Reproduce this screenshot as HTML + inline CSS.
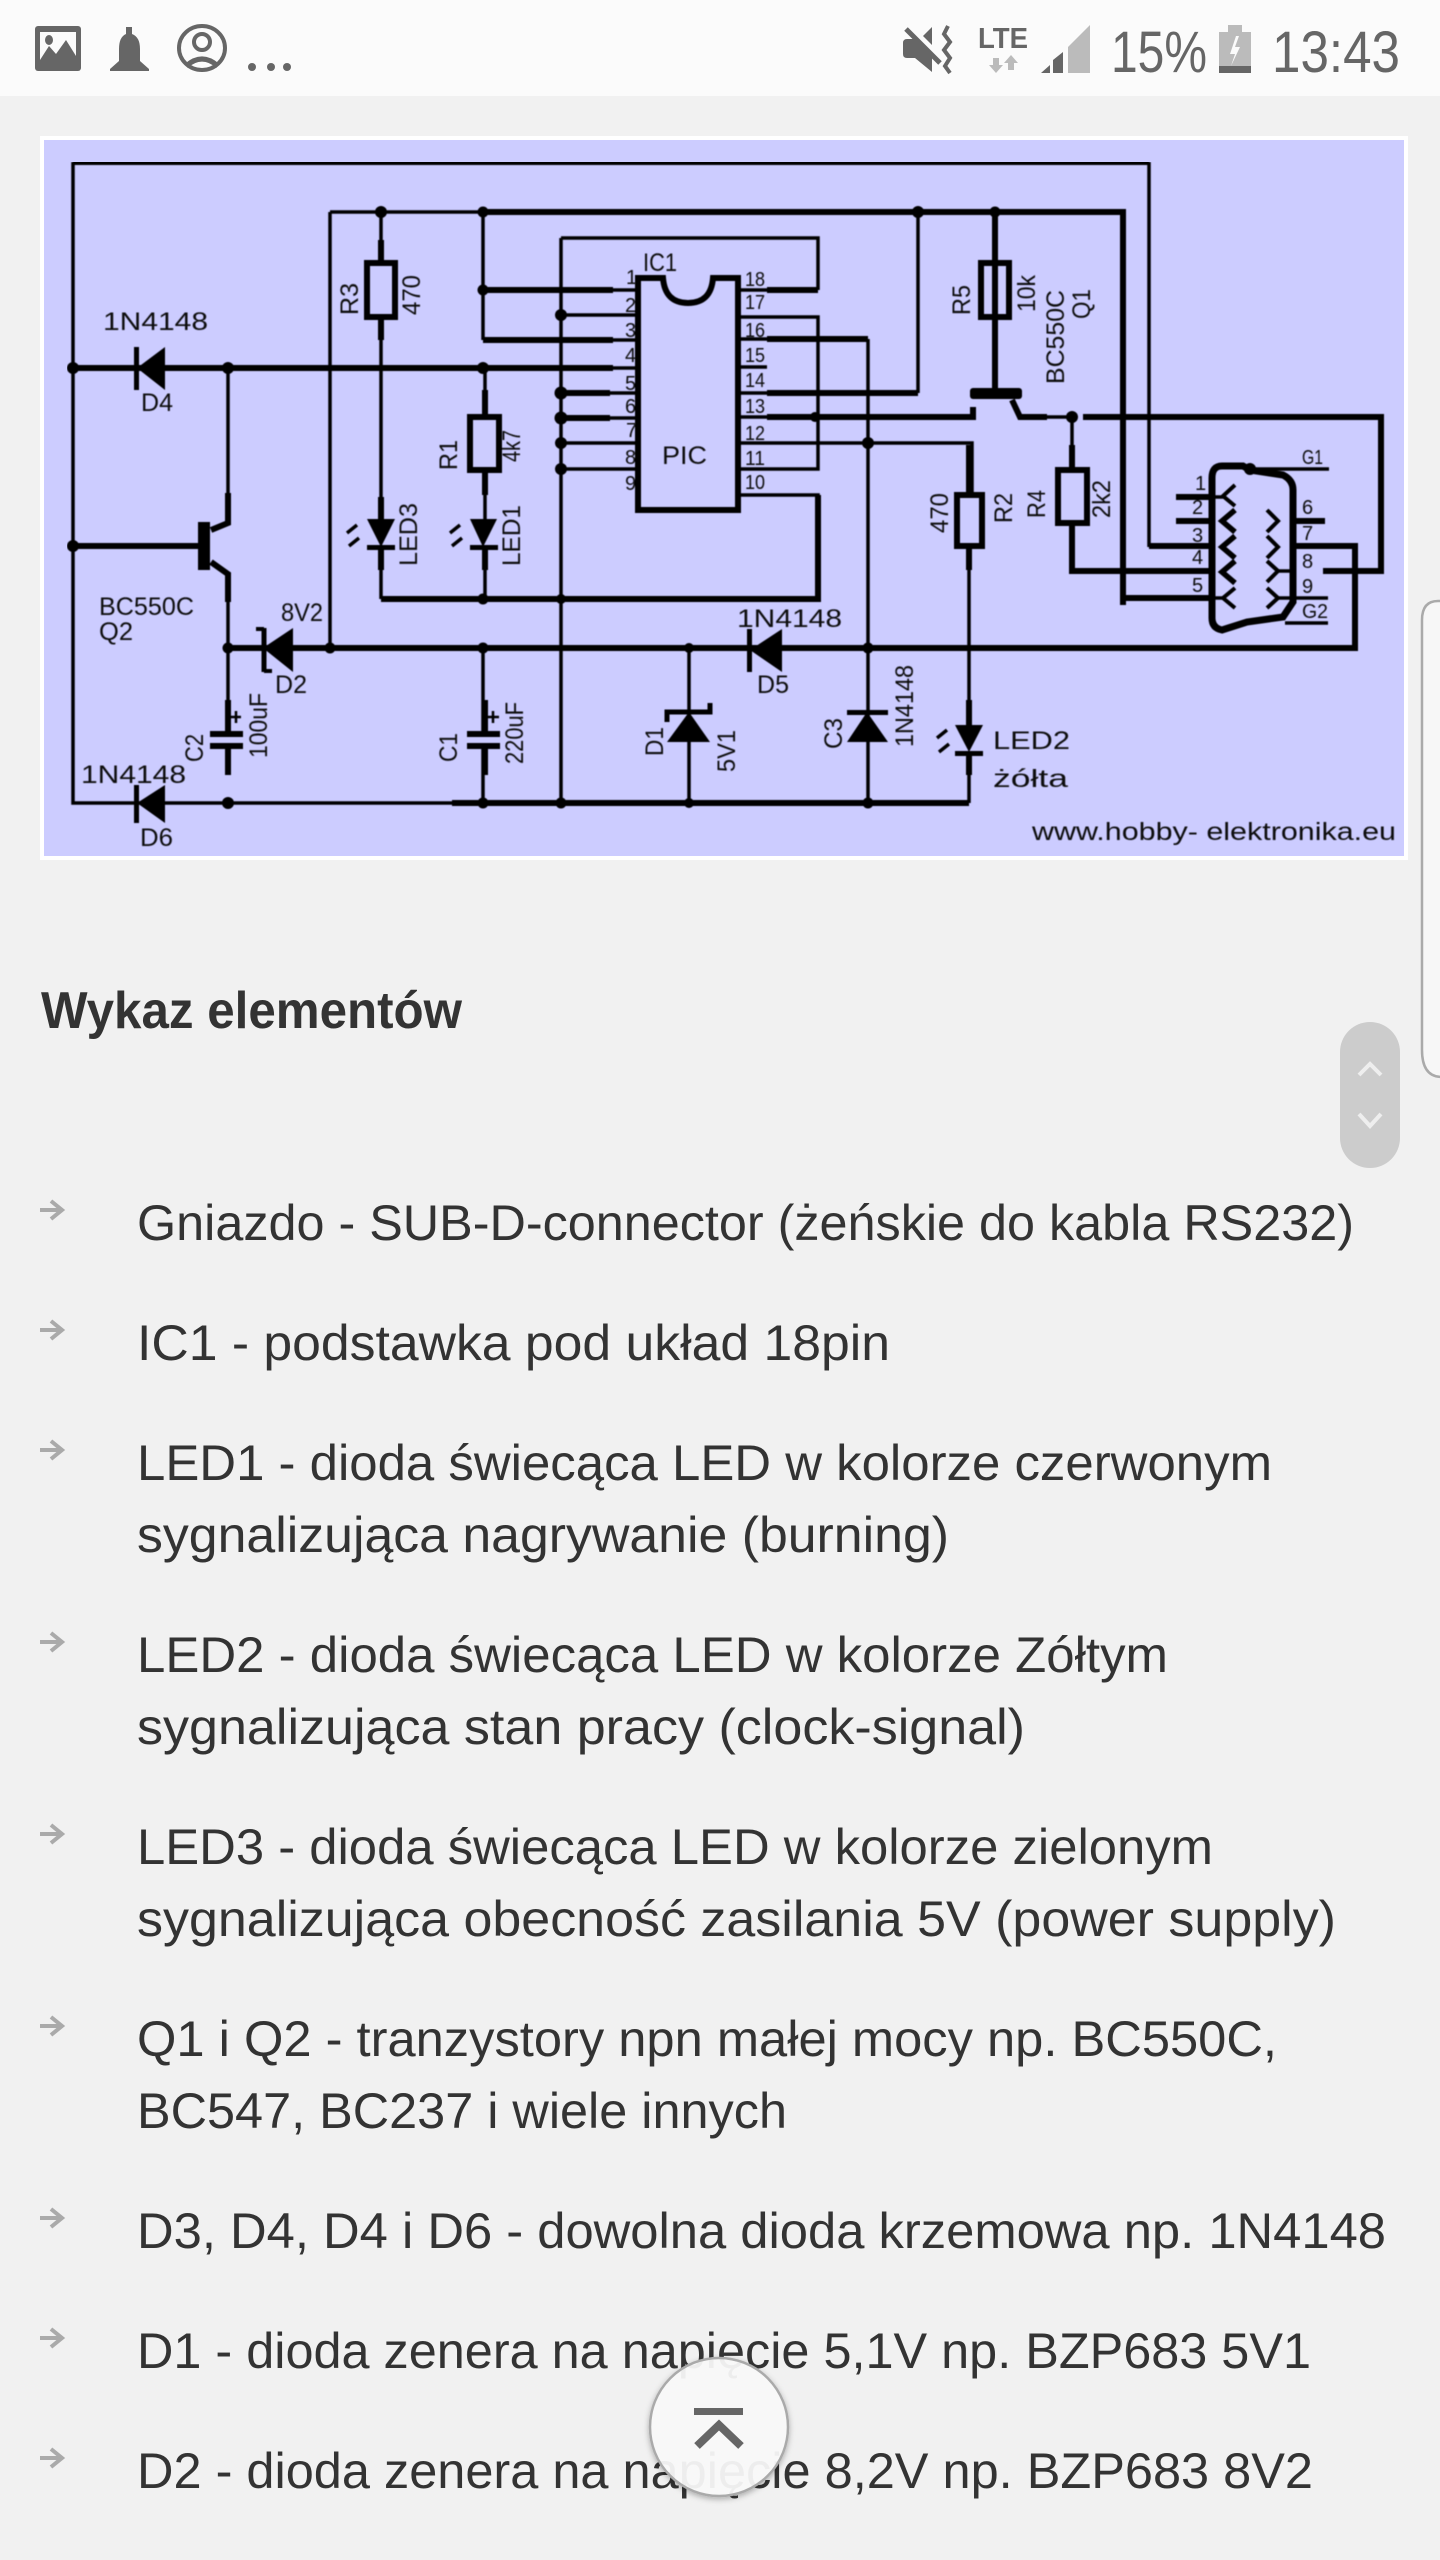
<!DOCTYPE html>
<html lang="pl"><head><meta charset="utf-8"><title>Wykaz elementów</title>
<style>
html,body{margin:0;padding:0;background:#f1f1f1;width:1440px;height:2560px;overflow:hidden}
svg{display:block}
text{font-family:"Liberation Sans",sans-serif}
.b{font-size:50px;fill:#333}
.c text{fill:#111;font-size:25px}
.s text{font-size:20px}
</style></head><body>
<svg xmlns="http://www.w3.org/2000/svg" width="1440" height="2560" viewBox="0 0 1440 2560">
<defs>
<filter id="bl" x="0" y="0" width="100%" height="100%"><feGaussianBlur stdDeviation="0.5"/></filter>
<filter id="sh" x="-20%" y="-20%" width="140%" height="140%"><feDropShadow dx="0" dy="2" stdDeviation="3" flood-color="#000" flood-opacity=".3"/></filter>
<g id="ar"><path d="M40 0H62M51-9L62 0L51 9" fill="none" stroke="#aaa" stroke-width="4"/></g>
</defs>
<rect width="1440" height="2560" fill="#f1f1f1"/>
<!-- status bar -->
<rect width="1440" height="96" fill="#fbfbfb"/>
<g fill="#666">
<rect x="35" y="26" width="46" height="45" rx="3"/>
<rect x="40" y="32" width="36" height="30" fill="#fbfbfb"/>
<path d="M40 60L49 46L56 54L66 40L76 56V66H40Z"/>
<ellipse cx="49" cy="40" rx="4" ry="5"/>
<path d="M126 27h6v7q8 3 8 15v12l9 8v2h-39v-2l9-8v-12q0-12 7-15z"/>
<circle cx="252" cy="67" r="4"/><circle cx="271" cy="67" r="4"/><circle cx="287" cy="67" r="4"/>
<path d="M932 27V45L923 36ZM903 43Q903 39 907 39H913L932 58V72L915 58H907Q903 58 903 54Z"/>
<path d="M906 29L940 63" stroke="#666" stroke-width="5"/>
<path d="M948 26L944 34L950 42L944 50L950 58L945 66L950 73" fill="none" stroke="#666" stroke-width="4"/>
<text x="978" y="48" font-size="29" font-weight="bold" textLength="50" lengthAdjust="spacingAndGlyphs">LTE</text>
<path d="M1041 73L1050 65V73ZM1053 60L1063 52V73H1053Z"/>
</g>
<g fill="none" stroke="#666" stroke-width="4"><ellipse cx="202" cy="48" rx="23" ry="22"/></g>
<circle cx="202" cy="42" r="8" fill="none" stroke="#666" stroke-width="4"/>
<path d="M186 66q16-14 32 0" fill="none" stroke="#666" stroke-width="5"/>
<path d="M1068 47L1090 25V73H1068Z" fill="#bbb"/>
<path d="M993 58h6v7h4l-7 8l-7-8h4zM1011 55l7 8h-4v7h-6v-7h-4z" fill="#bbb"/>
<rect x="1219" y="32" width="32" height="41" fill="#bbb"/><rect x="1228" y="25" width="14" height="8" fill="#bbb"/>
<rect x="1219" y="66" width="32" height="7" fill="#666"/>
<path d="M1236 36l-6 18h5l-4 12l9-19h-5l4-11z" fill="#fbfbfb"/>
<text x="1111" y="72" font-size="58" fill="#666" textLength="96" lengthAdjust="spacingAndGlyphs">15%</text>
<text x="1272" y="72" font-size="58" fill="#666" textLength="128" lengthAdjust="spacingAndGlyphs">13:43</text>

<!-- circuit image -->
<rect x="40" y="136" width="1368" height="724" fill="#fff"/>
<rect x="44" y="140" width="1360" height="716" fill="#ccccff"/>
<g filter="url(#bl)" class="c">
<g fill="none" stroke="#000" stroke-width="3.5">
<path d="M73 162V803H452M1149 162V547"/>
<path d="M330 212H483V340M330 212V648"/>
<path d="M381 212V263M381 317V519M381 548V599"/>
<path d="M561 238H818V290M561 238V803"/>
<path d="M561 315H636M561 443H636M561 469H636"/>
<path d="M740 317H818V469H740"/>
<path d="M740 367H767"/>
<path d="M740 495H818V599"/>
<path d="M868 339V803"/>
<path d="M918 212V393"/>
<path d="M740 443H972V495M969 546V725M969 755V803"/>
<path d="M228 368V493M228 574V648V732"/>
<path d="M485 368V417M485 470V519M485 548V599"/>
<path d="M483 648V732M483 746V803"/>
<path d="M689 648V712M689 742V803"/>
<path d="M1278 598H1328M1285 623H1328M1250 469H1329M1278 571H1293"/>
<path d="M1047 417H1072M1072 417V470"/>
<path d="M1212 497H1223M1212 598H1223"/>
<path d="M610 290H638M610 340H638M610 368H638M607 393H638M607 418H638"/>
<path d="M738 290H770M738 339H770M738 393H770M738 417H770"/>
</g>
<g fill="none" stroke="#000" stroke-width="6">
<path d="M73 162H1149"/>
<path d="M483 212H1123V605M1123 598H1212"/>
<path d="M1149 546H1212"/>
<path d="M483 290H613M483 340H613"/>
<path d="M73 368H613"/>
<path d="M767 290H818"/>
<path d="M767 339H868"/>
<path d="M767 393H918"/>
<path d="M767 417H973V407"/>
<path d="M561 393H610M561 418H610"/>
<path d="M73 546H198"/>
<path d="M228 493V523L211 530M211 562L228 574V602"/>
<path d="M228 648H1355V546H1295"/>
<path d="M381 599H818V495"/>
<path d="M452 803H969"/>
<path d="M381 240V263M381 317V340M381 497V519M381 548V570"/>
<path d="M485 390V417M485 470V495M485 548V570"/>
<path d="M995 212V393M1012 400L1020 417H1047M1083 417H1381V571H1323"/>
<path d="M1072 445V470M1072 523V571H1212"/>
<path d="M969 445V495M969 546V570M969 700V725M969 755V775"/>
<path d="M228 700V732M228 746V775M485 700V732M485 746V775"/>
<path d="M1176 497H1212M1176 521H1212M1293 521H1325M1293 546H1355"/>
<rect x="367" y="263" width="28" height="54"/>
<rect x="470" y="417" width="29" height="53"/>
<rect x="981" y="263" width="28" height="54"/>
<rect x="1058" y="470" width="29" height="53"/>
<rect x="957" y="495" width="25" height="51"/>
<path d="M638 510V278H663Q665 303 688 303Q711 303 713 278H738V510Z"/>
<path d="M1212 478Q1212 466 1222 466H1243L1250 470L1283 475Q1293 480 1293 490V602L1283 617L1247 622L1222 630Q1212 628 1212 618Z" stroke-width="7"/>
</g>
<g fill="#000">
<rect x="970" y="388" width="52" height="11" rx="3"/>
<rect x="198" y="522" width="12" height="48"/>
<!-- diodes -->
<path d="M137 368L165 347V390Z"/><rect x="134" y="347" width="5" height="43"/>
<path d="M137 803L165 785V823Z"/><rect x="134" y="785" width="5" height="38"/>
<path d="M263 648L293 628V672Z"/><path d="M264 628V672" stroke="#000" stroke-width="5"/><path d="M256 629H264M264 671H272" stroke="#000" stroke-width="4"/>
<path d="M750 650L782 629V672Z"/><rect x="747" y="629" width="5" height="43"/>
<path d="M689 712L667 742H710Z"/><path d="M667 722V712H710V703" fill="none" stroke="#000" stroke-width="5"/>
<path d="M867 712L847 742H888Z"/><rect x="847" y="710" width="41" height="5"/>
<!-- leds -->
<path d="M367 519H395L381 547Z"/><rect x="367" y="545" width="28" height="5"/>
<path d="M470 519H497L483 547Z"/><rect x="470" y="545" width="28" height="5"/>
<path d="M955 725H983L969 752Z"/><rect x="955" y="751" width="28" height="5"/>
<!-- led arrows -->
<path d="M347 533l10-8M349 546l10-8" stroke="#000" stroke-width="3.5"/><path d="M450 533l10-8M452 546l10-8" stroke="#000" stroke-width="3.5"/>
<path d="M937 738l10-8M939 752l10-8" stroke="#000" stroke-width="3.5"/>
<!-- caps -->
<rect x="210" y="731" width="33" height="6"/><rect x="210" y="743" width="33" height="6"/>
<rect x="467" y="731" width="33" height="6"/><rect x="467" y="743" width="33" height="6"/>
<path d="M230 717h11M236 711v12M488 717h11M493 711v12" stroke="#000" stroke-width="2.5"/>
<!-- nodes -->
<circle cx="73" cy="368" r="6"/><circle cx="73" cy="546" r="6"/><circle cx="228" cy="368" r="6"/><circle cx="228" cy="648" r="5.5"/><circle cx="228" cy="803" r="6"/>
<circle cx="330" cy="648" r="5.5"/><circle cx="381" cy="212" r="6"/><circle cx="483" cy="212" r="5.5"/><circle cx="483" cy="290" r="5.5"/><circle cx="483" cy="368" r="6"/><circle cx="483" cy="599" r="5.5"/><circle cx="483" cy="648" r="5.5"/><circle cx="483" cy="803" r="5.5"/>
<circle cx="561" cy="315" r="6"/><circle cx="561" cy="393" r="6.5"/><circle cx="561" cy="418" r="6.5"/><circle cx="561" cy="443" r="6"/><circle cx="561" cy="469" r="6"/><circle cx="561" cy="599" r="5"/><circle cx="561" cy="803" r="5.5"/>
<circle cx="689" cy="648" r="5"/><circle cx="689" cy="803" r="5"/><circle cx="815" cy="417" r="5"/>
<circle cx="868" cy="443" r="6"/><circle cx="868" cy="648" r="5.5"/><circle cx="868" cy="803" r="5.5"/><circle cx="918" cy="212" r="6"/><circle cx="995" cy="212" r="5.5"/><circle cx="1072" cy="417" r="6"/><circle cx="1250" cy="469" r="6"/>
</g>
<g fill="none" stroke="#000" stroke-width="4">
<path d="M1235 485L1223 496L1235 506"/>
<path d="M1235 510L1222 521L1235 532" stroke-width="5.5"/>
<path d="M1235 536L1222 547L1235 558" stroke-width="5.5"/>
<path d="M1235 561L1222 572L1235 583" stroke-width="5.5"/>
<path d="M1235 588L1223 598L1235 608"/>
<path d="M1267 510L1278 521L1267 532"/>
<path d="M1267 536L1278 547L1267 558"/>
<path d="M1267 561L1278 571L1267 582"/>
<path d="M1267 588L1278 598L1267 608"/>
</g>
<!-- labels -->
<text x="103" y="330" font-size="27" textLength="105" lengthAdjust="spacingAndGlyphs">1N4148</text>
<text x="141" y="411" textLength="32" lengthAdjust="spacingAndGlyphs">D4</text>
<text x="81" y="783" font-size="27" textLength="105" lengthAdjust="spacingAndGlyphs">1N4148</text>
<text x="140" y="846" textLength="33" lengthAdjust="spacingAndGlyphs">D6</text>
<text x="99" y="615" textLength="95" lengthAdjust="spacingAndGlyphs">BC550C</text>
<text x="99" y="640" textLength="34" lengthAdjust="spacingAndGlyphs">Q2</text>
<text x="281" y="621" textLength="42" lengthAdjust="spacingAndGlyphs">8V2</text>
<text x="275" y="693" textLength="32" lengthAdjust="spacingAndGlyphs">D2</text>
<text x="737" y="627" font-size="27" textLength="105" lengthAdjust="spacingAndGlyphs">1N4148</text>
<text x="757" y="693" textLength="32" lengthAdjust="spacingAndGlyphs">D5</text>
<text x="643" y="271" textLength="34" lengthAdjust="spacingAndGlyphs">IC1</text>
<text x="662" y="464" font-size="28" textLength="45" lengthAdjust="spacingAndGlyphs">PIC</text>
<text x="993" y="749" font-size="32" textLength="77" lengthAdjust="spacingAndGlyphs">LED2</text>
<text x="993" y="787" font-size="30" textLength="75" lengthAdjust="spacingAndGlyphs">żółta</text>
<text x="1032" y="840" font-size="27" textLength="364" lengthAdjust="spacingAndGlyphs">www.hobby- elektronika.eu</text>
<text transform="translate(358 315) rotate(-90)" textLength="32" lengthAdjust="spacingAndGlyphs">R3</text>
<text transform="translate(420 315) rotate(-90)" textLength="40" lengthAdjust="spacingAndGlyphs">470</text>
<text transform="translate(457 470) rotate(-90)" textLength="30" lengthAdjust="spacingAndGlyphs">R1</text>
<text transform="translate(520 462) rotate(-90)" textLength="32" lengthAdjust="spacingAndGlyphs">4k7</text>
<text transform="translate(417 566) rotate(-90)" textLength="63" lengthAdjust="spacingAndGlyphs">LED3</text>
<text transform="translate(520 566) rotate(-90)" textLength="61" lengthAdjust="spacingAndGlyphs">LED1</text>
<text transform="translate(203 762) rotate(-90)" textLength="28" lengthAdjust="spacingAndGlyphs">C2</text>
<text transform="translate(267 758) rotate(-90)" textLength="65" lengthAdjust="spacingAndGlyphs">100uF</text>
<text transform="translate(457 762) rotate(-90)" textLength="29" lengthAdjust="spacingAndGlyphs">C1</text>
<text transform="translate(523 764) rotate(-90)" textLength="62" lengthAdjust="spacingAndGlyphs">220uF</text>
<text transform="translate(663 756) rotate(-90)" textLength="29" lengthAdjust="spacingAndGlyphs">D1</text>
<text transform="translate(735 772) rotate(-90)" textLength="42" lengthAdjust="spacingAndGlyphs">5V1</text>
<text transform="translate(842 749) rotate(-90)" textLength="31" lengthAdjust="spacingAndGlyphs">C3</text>
<text transform="translate(913 747) rotate(-90)" textLength="82" lengthAdjust="spacingAndGlyphs">1N4148</text>
<text transform="translate(948 533) rotate(-90)" textLength="40" lengthAdjust="spacingAndGlyphs">470</text>
<text transform="translate(1012 523) rotate(-90)" textLength="30" lengthAdjust="spacingAndGlyphs">R2</text>
<text transform="translate(1045 518) rotate(-90)" textLength="28" lengthAdjust="spacingAndGlyphs">R4</text>
<text transform="translate(1110 518) rotate(-90)" textLength="38" lengthAdjust="spacingAndGlyphs">2k2</text>
<text transform="translate(970 315) rotate(-90)" textLength="30" lengthAdjust="spacingAndGlyphs">R5</text>
<text transform="translate(1035 312) rotate(-90)" textLength="37" lengthAdjust="spacingAndGlyphs">10k</text>
<text transform="translate(1064 384) rotate(-90)" textLength="94" lengthAdjust="spacingAndGlyphs">BC550C</text>
<text transform="translate(1090 319) rotate(-90)" textLength="30" lengthAdjust="spacingAndGlyphs">Q1</text>
<g class="s">
<text x="626" y="284">1</text><text x="625" y="312">2</text><text x="625" y="337">3</text><text x="625" y="362">4</text><text x="625" y="390">5</text><text x="625" y="413">6</text><text x="626" y="437">7</text><text x="625" y="464">8</text><text x="625" y="490">9</text>
<text x="745" y="286" textLength="20" lengthAdjust="spacingAndGlyphs">18</text><text x="745" y="309" textLength="20" lengthAdjust="spacingAndGlyphs">17</text><text x="745" y="337" textLength="20" lengthAdjust="spacingAndGlyphs">16</text><text x="745" y="362" textLength="20" lengthAdjust="spacingAndGlyphs">15</text><text x="745" y="387" textLength="20" lengthAdjust="spacingAndGlyphs">14</text><text x="745" y="413" textLength="20" lengthAdjust="spacingAndGlyphs">13</text><text x="745" y="440" textLength="20" lengthAdjust="spacingAndGlyphs">12</text><text x="745" y="465" textLength="20" lengthAdjust="spacingAndGlyphs">11</text><text x="745" y="489" textLength="20" lengthAdjust="spacingAndGlyphs">10</text>
<text x="1195" y="490">1</text><text x="1192" y="514">2</text><text x="1192" y="542">3</text><text x="1192" y="564">4</text><text x="1192" y="592">5</text>
<text x="1302" y="514">6</text><text x="1302" y="540">7</text><text x="1302" y="568">8</text><text x="1302" y="593">9</text>
<text x="1302" y="464" textLength="21" lengthAdjust="spacingAndGlyphs">G1</text><text x="1302" y="618" textLength="26" lengthAdjust="spacingAndGlyphs">G2</text>
</g>
</g>

<!-- right edge panel -->
<path d="M1441 601H1438Q1422 601 1422 620V1050Q1422 1077 1442 1077" fill="#f7f7f7" stroke="#aaa" stroke-width="2.5"/>

<!-- heading + list -->
<text x="41" y="1028" font-size="52" font-weight="bold" fill="#333" textLength="421" lengthAdjust="spacingAndGlyphs">Wykaz elementów</text>
<use href="#ar" y="1210"/><use href="#ar" y="1330"/><use href="#ar" y="1450"/><use href="#ar" y="1642"/><use href="#ar" y="1834"/><use href="#ar" y="2026"/><use href="#ar" y="2218"/><use href="#ar" y="2338"/><use href="#ar" y="2458"/>
<g class="l">
<text class="b" x="137" y="1240" textLength="1217" lengthAdjust="spacingAndGlyphs">Gniazdo - SUB-D-connector (żeńskie do kabla RS232)</text>
<text class="b" x="137" y="1360" textLength="753" lengthAdjust="spacingAndGlyphs">IC1 - podstawka pod układ 18pin</text>
<text class="b" x="137" y="1480" textLength="1135" lengthAdjust="spacingAndGlyphs">LED1 - dioda świecąca LED w kolorze czerwonym</text>
<text class="b" x="137" y="1552" textLength="812" lengthAdjust="spacingAndGlyphs">sygnalizująca nagrywanie (burning)</text>
<text class="b" x="137" y="1672" textLength="1031" lengthAdjust="spacingAndGlyphs">LED2 - dioda świecąca LED w kolorze Zółtym</text>
<text class="b" x="137" y="1744" textLength="888" lengthAdjust="spacingAndGlyphs">sygnalizująca stan pracy (clock-signal)</text>
<text class="b" x="137" y="1864" textLength="1076" lengthAdjust="spacingAndGlyphs">LED3 - dioda świecąca LED w kolorze zielonym</text>
<text class="b" x="137" y="1936" textLength="1199" lengthAdjust="spacingAndGlyphs">sygnalizująca obecność zasilania 5V (power supply)</text>
<text class="b" x="137" y="2056" textLength="1140" lengthAdjust="spacingAndGlyphs">Q1 i Q2 - tranzystory npn małej mocy np. BC550C,</text>
<text class="b" x="137" y="2128" textLength="650" lengthAdjust="spacingAndGlyphs">BC547, BC237 i wiele innych</text>
<text class="b" x="137" y="2248" textLength="1249" lengthAdjust="spacingAndGlyphs">D3, D4, D4 i D6 - dowolna dioda krzemowa np. 1N4148</text>
<text class="b" x="137" y="2368" textLength="1174" lengthAdjust="spacingAndGlyphs">D1 - dioda zenera na napięcie 5,1V np. BZP683 5V1</text>
<text class="b" x="137" y="2488" textLength="1176" lengthAdjust="spacingAndGlyphs">D2 - dioda zenera na napięcie 8,2V np. BZP683 8V2</text>
</g>

<!-- scroll pill -->
<rect x="1340" y="1022" width="60" height="146" rx="30" fill="#cccccc"/>
<path d="M1359 1075L1370 1064L1381 1075M1359 1114L1370 1126L1381 1114" fill="none" stroke="#eeeeee" stroke-width="4"/>

<!-- FAB -->
<circle cx="719" cy="2427" r="69" fill="#fbfbfb" fill-opacity=".92" stroke="#aaa" stroke-width="2.5" filter="url(#sh)"/>
<rect x="694" y="2408" width="49" height="7" fill="#666"/>
<path d="M697 2446L719 2425L741 2446" fill="none" stroke="#666" stroke-width="8"/>
</svg>
</body></html>
